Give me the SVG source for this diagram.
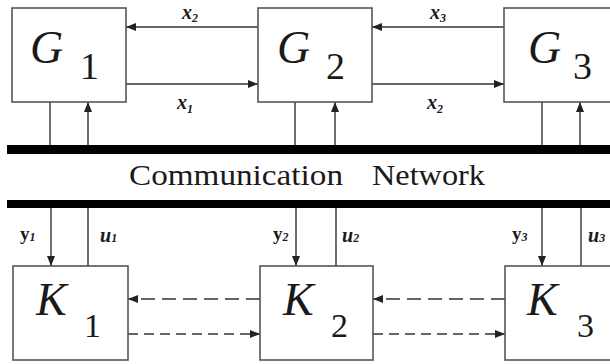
<svg xmlns="http://www.w3.org/2000/svg" width="610" height="364" viewBox="0 0 610 364">
<defs>
<marker id="ah" markerUnits="userSpaceOnUse" markerWidth="10" markerHeight="8" refX="10" refY="4" orient="auto">
<path d="M0,0 L10,4 L0,8 z" fill="#222"/>
</marker>
</defs>
<rect x="0" y="0" width="610" height="364" fill="#fff"/>

<g id="bars">
<rect x="7" y="145" width="610" height="9" fill="#000"/>
<rect x="7" y="200" width="610" height="8" fill="#000"/>
<text style="font-family:'Liberation Serif'" font-size="30" fill="#1a1a1a" x="129" y="185" textLength="214" lengthAdjust="spacingAndGlyphs">Communication</text>
<text style="font-family:'Liberation Serif'" font-size="30" fill="#1a1a1a" x="372" y="185" textLength="113" lengthAdjust="spacingAndGlyphs">Network</text>
</g>

<g id="connectors">
<g stroke="#333" stroke-width="1.4" fill="none">
<line x1="258" y1="27" x2="126" y2="27" marker-end="url(#ah)"/>
<line x1="126" y1="84" x2="258" y2="84" marker-end="url(#ah)"/>
<line x1="504" y1="27" x2="372" y2="27" marker-end="url(#ah)"/>
<line x1="372" y1="84" x2="504" y2="84" marker-end="url(#ah)"/>
<line x1="50" y1="102" x2="50" y2="145"/>
<line x1="88" y1="145" x2="88" y2="102" marker-end="url(#ah)"/>
<line x1="295" y1="102" x2="295" y2="145"/>
<line x1="335" y1="145" x2="335" y2="102" marker-end="url(#ah)"/>
<line x1="542" y1="102" x2="542" y2="145"/>
<line x1="580" y1="145" x2="580" y2="102" marker-end="url(#ah)"/>
<line x1="51" y1="208" x2="51" y2="266" marker-end="url(#ah)"/>
<line x1="88" y1="266" x2="88" y2="208"/>
<line x1="296" y1="208" x2="296" y2="266" marker-end="url(#ah)"/>
<line x1="336" y1="266" x2="336" y2="208"/>
<line x1="542" y1="208" x2="542" y2="266" marker-end="url(#ah)"/>
<line x1="581" y1="266" x2="581" y2="208"/>
<g stroke-dasharray="14 7">
<line x1="260" y1="299" x2="128" y2="299" marker-end="url(#ah)"/>
<line x1="505" y1="299" x2="373" y2="299" marker-end="url(#ah)"/>
</g>
<g stroke-dasharray="10 6">
<line x1="128" y1="334" x2="260" y2="334" marker-end="url(#ah)"/>
<line x1="373" y1="334" x2="505" y2="334" marker-end="url(#ah)"/>
</g>
</g>
<g fill="#1a1a1a" font-weight="bold" font-size="20">
<text style="font-family:'Liberation Serif'" font-style="italic" x="182" y="19">x<tspan font-size="12" dy="3">2</tspan></text>
<text style="font-family:'Liberation Serif'" font-style="italic" x="177" y="109">x<tspan font-size="12" dy="4">1</tspan></text>
<text style="font-family:'Liberation Serif'" font-style="italic" x="430" y="19">x<tspan font-size="12" dy="3">3</tspan></text>
<text style="font-family:'Liberation Serif'" font-style="italic" x="427" y="109">x<tspan font-size="12" dy="4">2</tspan></text>
<text style="font-family:'Liberation Serif'" font-size="19" x="20" y="240">y<tspan font-style="italic" font-size="12" dy="1">1</tspan></text>
<text style="font-family:'Liberation Serif'" font-style="italic" x="100" y="242">u<tspan font-size="12">1</tspan></text>
<text style="font-family:'Liberation Serif'" font-size="19" x="273" y="240">y<tspan font-style="italic" font-size="12" dy="1">2</tspan></text>
<text style="font-family:'Liberation Serif'" font-style="italic" x="342" y="242">u<tspan font-size="12">2</tspan></text>
<text style="font-family:'Liberation Serif'" font-size="19" x="512" y="240">y<tspan font-style="italic" font-size="12" dy="1">3</tspan></text>
<text style="font-family:'Liberation Serif'" font-style="italic" x="588" y="242">u<tspan font-size="12">3</tspan></text>
</g>
</g>

<g id="G1">
<rect x="12" y="8" width="114" height="94" fill="#fff" stroke="#555" stroke-width="1.6"/>
<text style="font-family:'Liberation Serif'" font-style="italic" font-size="46" fill="#1a1a1a" x="30" y="63">G</text>
<text style="font-family:'Liberation Serif'" font-size="38" fill="#1a1a1a" x="80" y="79">1</text>
</g>
<g id="G2">
<rect x="258" y="8" width="114" height="94" fill="#fff" stroke="#555" stroke-width="1.6"/>
<text style="font-family:'Liberation Serif'" font-style="italic" font-size="46" fill="#1a1a1a" x="277" y="63">G</text>
<text style="font-family:'Liberation Serif'" font-size="38" fill="#1a1a1a" x="326" y="79">2</text>
</g>
<g id="G3">
<rect x="504" y="8" width="114" height="94" fill="#fff" stroke="#555" stroke-width="1.6"/>
<text style="font-family:'Liberation Serif'" font-style="italic" font-size="46" fill="#1a1a1a" x="528" y="63">G</text>
<text style="font-family:'Liberation Serif'" font-size="38" fill="#1a1a1a" x="573" y="79">3</text>
</g>
<g id="K1">
<rect x="13" y="266" width="115" height="94" fill="#fff" stroke="#555" stroke-width="1.6"/>
<text style="font-family:'Liberation Serif'" font-style="italic" font-size="46" fill="#1a1a1a" x="36" y="315">K</text>
<text style="font-family:'Liberation Serif'" font-size="34" fill="#1a1a1a" x="84" y="337">1</text>
</g>
<g id="K2">
<rect x="260" y="266" width="113" height="94" fill="#fff" stroke="#555" stroke-width="1.6"/>
<text style="font-family:'Liberation Serif'" font-style="italic" font-size="46" fill="#1a1a1a" x="283" y="315">K</text>
<text style="font-family:'Liberation Serif'" font-size="34" fill="#1a1a1a" x="331" y="337">2</text>
</g>
<g id="K3">
<rect x="505" y="266" width="114" height="94" fill="#fff" stroke="#555" stroke-width="1.6"/>
<text style="font-family:'Liberation Serif'" font-style="italic" font-size="46" fill="#1a1a1a" x="527" y="315">K</text>
<text style="font-family:'Liberation Serif'" font-size="34" fill="#1a1a1a" x="577" y="337">3</text>
</g>
</svg>
